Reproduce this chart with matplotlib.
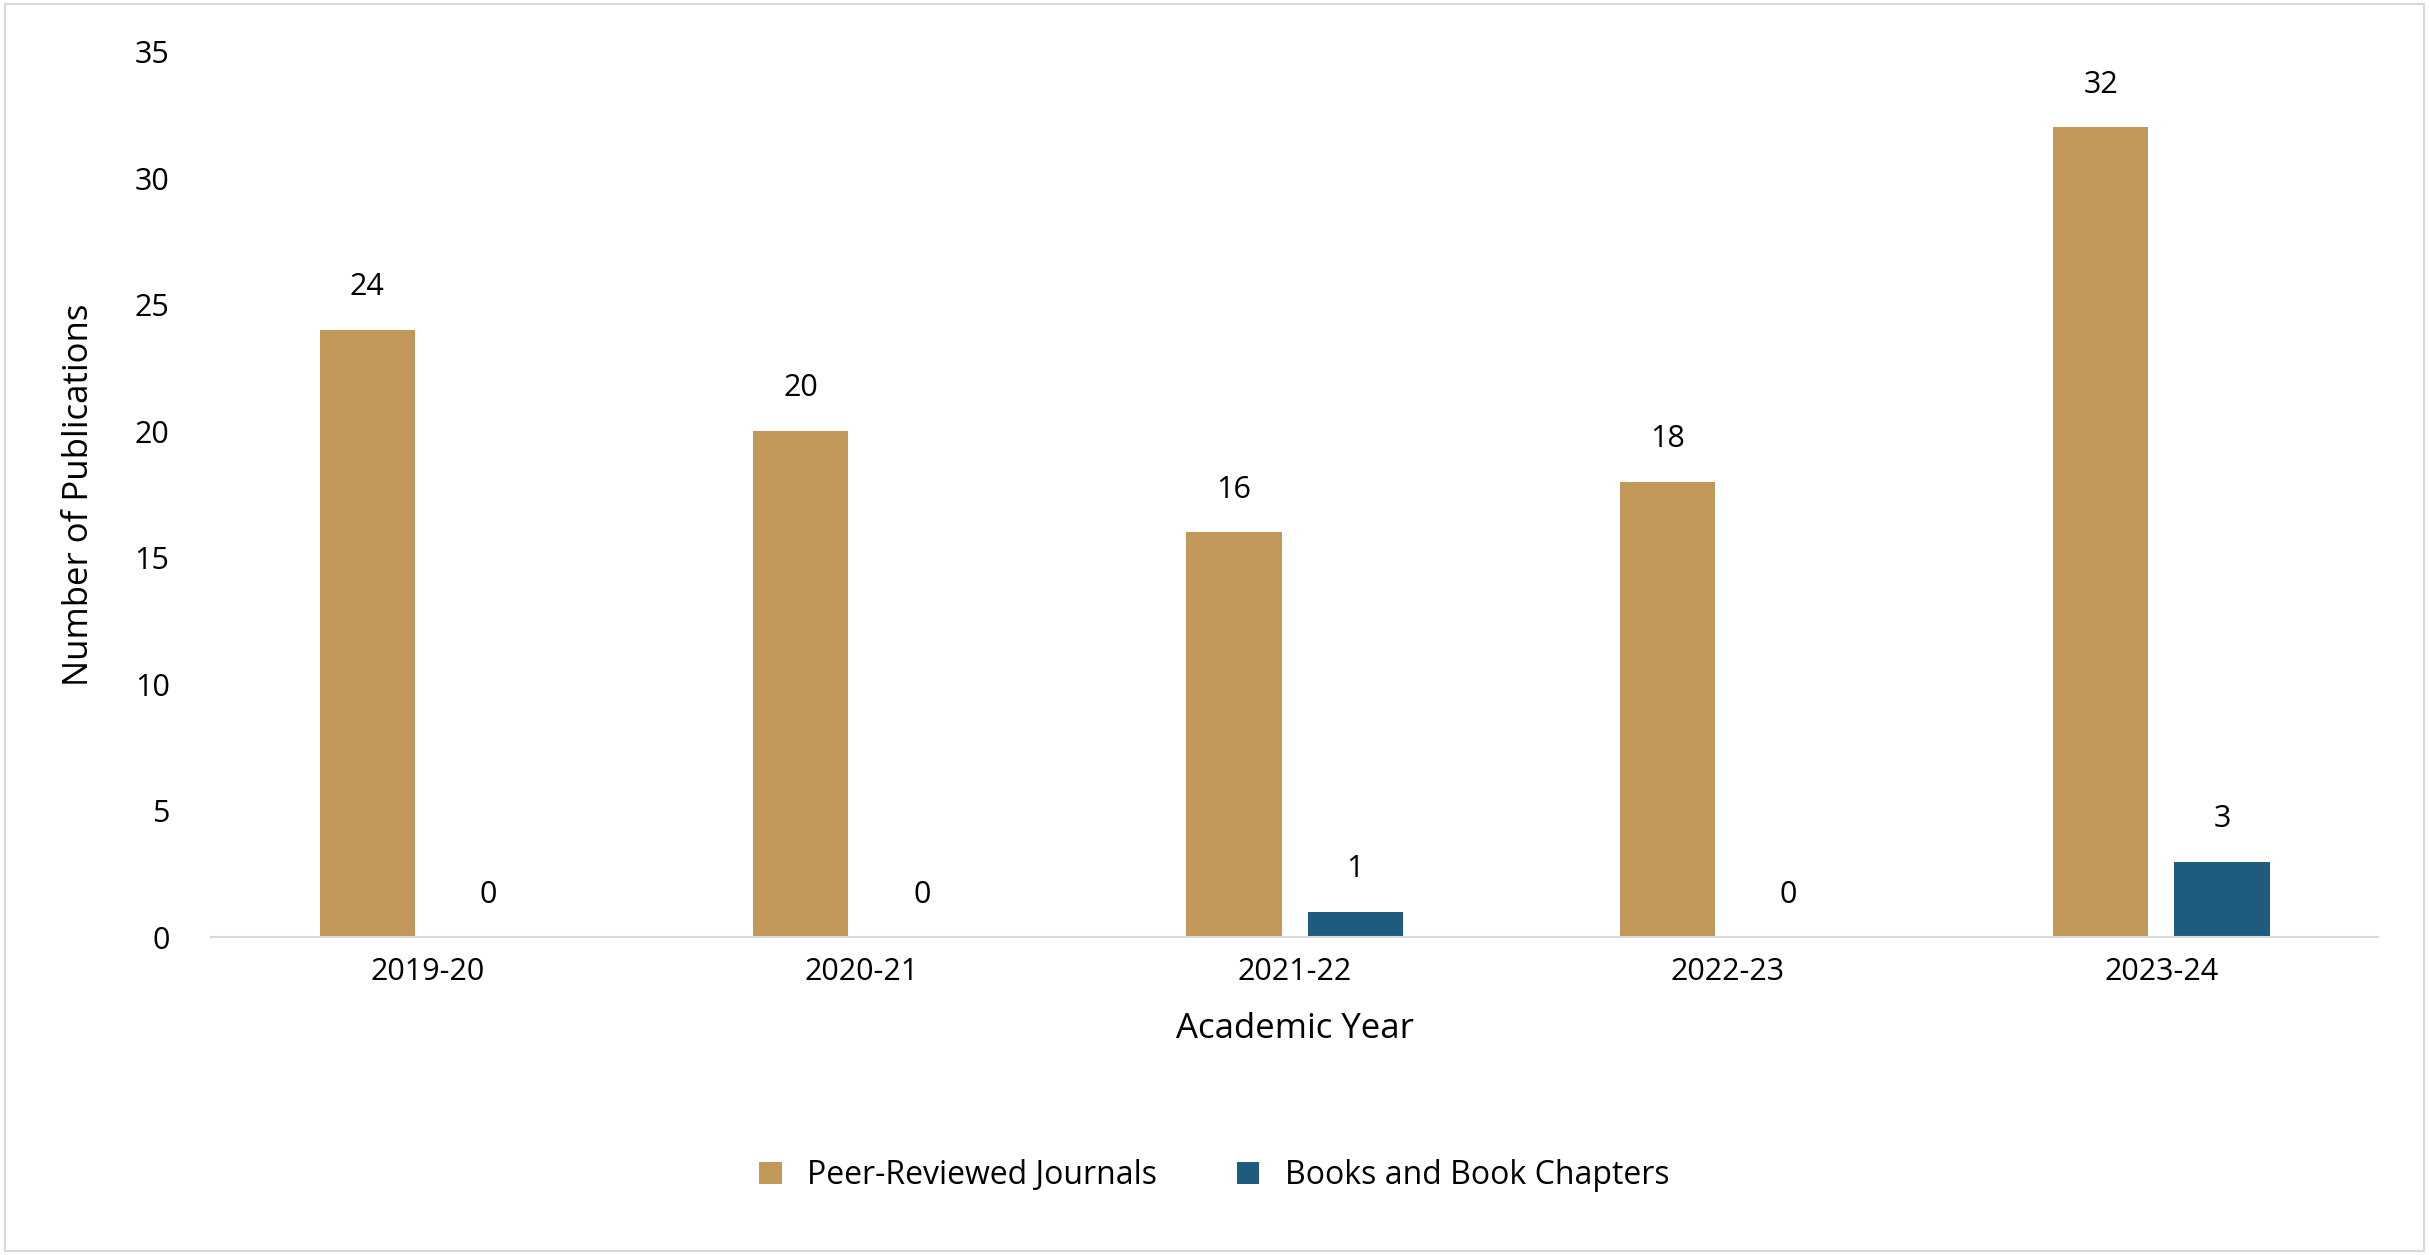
import matplotlib
matplotlib.use("Agg")
import matplotlib.pyplot as plt
import numpy as np
from matplotlib.patches import Rectangle

years = ["2019-20", "2020-21", "2021-22", "2022-23", "2023-24"]
journals = [24, 20, 16, 18, 32]
books = [0, 0, 1, 0, 3]
series_names = ["Peer-Reviewed Journals", "Books and Book Chapters"]
colors = ["#C19859", "#1F5B7E"]

plt.rcParams["font.family"] = "Open Sans"
fig = plt.figure(figsize=(24.29, 12.55), dpi=100)
ax = fig.add_axes([0.087, 0.253, 0.892, 0.706])
x = np.arange(len(years))
w = 0.22
off = 0.14
b1 = ax.bar(x - off, journals, w, color=colors[0], label=series_names[0])
b2 = ax.bar(x + off, books, w, color=colors[1], label=series_names[1])
for bars, vals in ((b1, journals), (b2, books)):
    for r, v in zip(bars, vals):
        ax.text(r.get_x() + r.get_width() / 2, v + 1.1, str(v), ha="center", va="bottom", fontsize=22)
ax.set_xlim(-0.5, len(years) - 0.5)
ax.set_ylim(0, 35)
ax.set_yticks(range(0, 36, 5))
ax.set_xticks(x)
ax.set_xticklabels(years)
ax.tick_params(axis="both", length=0, labelsize=22, pad=14)
ax.tick_params(axis="y", pad=30)
for s in ["top", "right", "left"]:
    ax.spines[s].set_visible(False)
ax.spines["bottom"].set_color("#D9D9D9")
ax.spines["bottom"].set_linewidth(1.5)
ax.set_xlabel("Academic Year", fontsize=25, labelpad=18)
ax.set_ylabel("Number of Publications", fontsize=25, labelpad=28)
fig.legend(handles=[b1, b2], loc="center", bbox_to_anchor=(0.5, 0.063), ncol=2,
           frameon=False, fontsize=23, handlelength=0.7, handleheight=0.7, columnspacing=2.5)
fig.patches.append(Rectangle((0.002, 0.003), 0.996, 0.994, transform=fig.transFigure,
                             fill=False, edgecolor="#D9D9D9", linewidth=1.5))
fig.savefig("out.png", dpi=100)
